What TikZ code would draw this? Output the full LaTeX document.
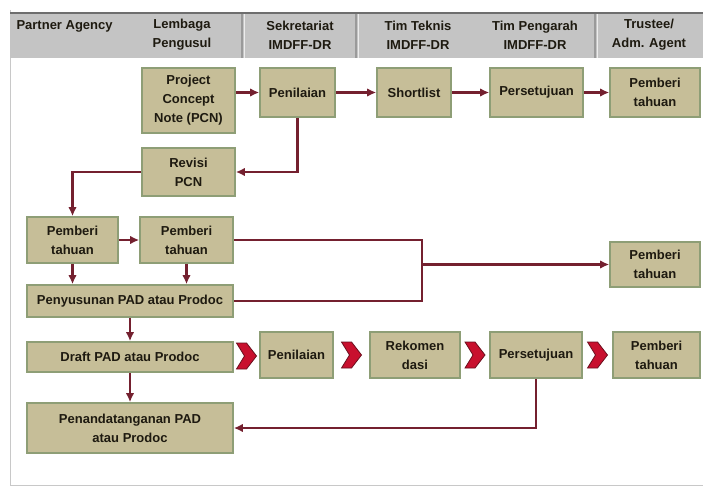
\documentclass[tikz,border=0pt]{standalone}
\usepackage{fontspec}
\setmainfont{Liberation Sans}
\usetikzlibrary{arrows.meta,calc}
\definecolor{boxfill}{HTML}{C6BE98}
\definecolor{boxline}{HTML}{8E9E76}
\definecolor{hdrfill}{HTML}{C4C4C4}
\definecolor{hdrline}{HTML}{6E6E6E}
\definecolor{sepline}{HTML}{9A9A9A}
\definecolor{flow}{HTML}{74202F}
\definecolor{chevred}{HTML}{C8102E}
\definecolor{chevdark}{HTML}{6A0F1E}
\definecolor{framecol}{HTML}{C8C8C8}
\definecolor{txt}{HTML}{1E1A10}
\begin{document}
\begin{tikzpicture}[x=1pt,y=-1pt,
 stepbox/.style={draw=boxline,fill=boxfill,line width=1.6pt,align=center,inner sep=1pt,
   font=\fontsize{13}{19}\selectfont\bfseries,text=txt},
 hdr/.style={font=\fontsize{13}{19}\selectfont\bfseries,align=center,text=txt},
 flowline/.style={draw=flow,line width=2.3pt},
 flowarrow/.style={flowline,-{Latex[length=9pt,width=8.5pt]}},
 chev/.pic={\filldraw[fill=chevred,draw=chevdark,line width=0.8pt,line join=miter]
   (-10,-13) -- (0,-13) -- (10,0) -- (0,13) -- (-10,13) -- (-2,0) -- cycle;}
]
\useasboundingbox (0,0) rectangle (703,489);
% frame and header
\draw[framecol,line width=1pt] (10,10) -- (10,485) -- (703,485);
\fill[hdrfill] (10,12) rectangle (703,58);
\draw[hdrline,line width=2pt] (10,13) -- (703,13);
\foreach \sx in {242,356,595}{
  \draw[sepline,line width=1.5pt] (\sx,14) -- (\sx,58);
  \draw[white!85!gray,line width=0.8pt] (\sx+2,14) -- (\sx+2,58);
}
\node[hdr,anchor=west] (hpa) at (13,26) {Partner Agency};
\node[hdr] (hlp) at (182,35) {Lembaga\\Pengusul};
\node[hdr] (hsk) at (300,35) {Sekretariat\\IMDFF-DR};
\node[hdr] (htt) at (418,35) {Tim Teknis\\IMDFF-DR};
\node[hdr] (htp) at (535,35) {Tim Pengarah\\IMDFF-DR};
\node[hdr] (hta) at (649,35) {Trustee/\\Adm. Agent};
% row 1
\node[stepbox,minimum width=93pt,minimum height=65pt] (pcn) at (188.5,100.5) {Project\\Concept\\Note (PCN)};
\node[stepbox,minimum width=75pt,minimum height=49pt] (pen1) at (297.5,92.5) {Penilaian};
\node[stepbox,minimum width=74pt,minimum height=49pt] (short) at (414,92.5) {Shortlist};
\node[stepbox,minimum width=93pt,minimum height=49pt] (pers1) at (536.5,92.5) {Persetujuan};
\node[stepbox,minimum width=90pt,minimum height=49pt] (ptT) at (655,92.5) {Pemberi\\tahuan};
% row 2
\node[stepbox,minimum width=93pt,minimum height=48pt] (rev) at (188.5,172) {Revisi\\PCN};
% row 3
\node[stepbox,minimum width=91pt,minimum height=46pt] (pt1) at (72.5,240) {Pemberi\\tahuan};
\node[stepbox,minimum width=93pt,minimum height=46pt] (pt2) at (186.5,240) {Pemberi\\tahuan};
\node[stepbox,minimum width=90pt,minimum height=45pt] (ptR) at (655,264.5) {Pemberi\\tahuan};
\node[stepbox,minimum width=206pt,minimum height=32pt] (pen) at (130,301) {Penyusunan PAD atau Prodoc};
% row 4
\node[stepbox,minimum width=206pt,minimum height=30pt] (draft) at (130,357) {Draft PAD atau Prodoc};
\node[stepbox,minimum width=73pt,minimum height=46pt] (pen2) at (296.5,355) {Penilaian};
\node[stepbox,minimum width=90pt,minimum height=46pt] (rek) at (415,355) {Rekomen\\dasi};
\node[stepbox,minimum width=92pt,minimum height=46pt] (pers2) at (536,355) {Persetujuan};
\node[stepbox,minimum width=87pt,minimum height=46pt] (ptB) at (656.5,355) {Pemberi\\tahuan};
% row 5
\node[stepbox,minimum width=206pt,minimum height=50pt] (sign) at (130,428) {Penandatanganan PAD\\atau Prodoc};
% connectors
\draw[flowarrow] (pcn.east |- pen1.west) -- (pen1.west);
\draw[flowarrow] (pen1) -- (short);
\draw[flowarrow] (short) -- (pers1);
\draw[flowarrow] (pers1) -- (ptT);
\draw[flowarrow] (pen1.south) |- (rev.east);
\draw[flowarrow] (rev.west) -| (pt1.north);
\draw[flowarrow] (pt1) -- (pt2);
\draw[flowarrow] (pt1.south) -- (pt1.south |- pen.north);
\draw[flowarrow] (pt2.south) -- (pt2.south |- pen.north);
\coordinate (jt) at (422,240);
\coordinate (jm) at (422,264.5);
\draw[flowline] (pt2.east) -- (jt) |- (pen.east);
\draw[flowarrow] (jm) -- (ptR.west);
\draw[flowarrow] (pen.south) -- (draft.north);
\draw[flowarrow] (draft.south) -- (sign.north);
\draw[flowarrow] (pers2.south) |- (sign.east);
% chevrons
\path ($(draft.east)!0.5!(pen2.west)$) pic {chev};
\path ($(pen2.east)!0.5!(rek.west)$) pic {chev};
\path ($(rek.east)!0.5!(pers2.west)$) pic {chev};
\path ($(pers2.east)!0.5!(ptB.west)$) pic {chev};
\end{tikzpicture}
\end{document}
